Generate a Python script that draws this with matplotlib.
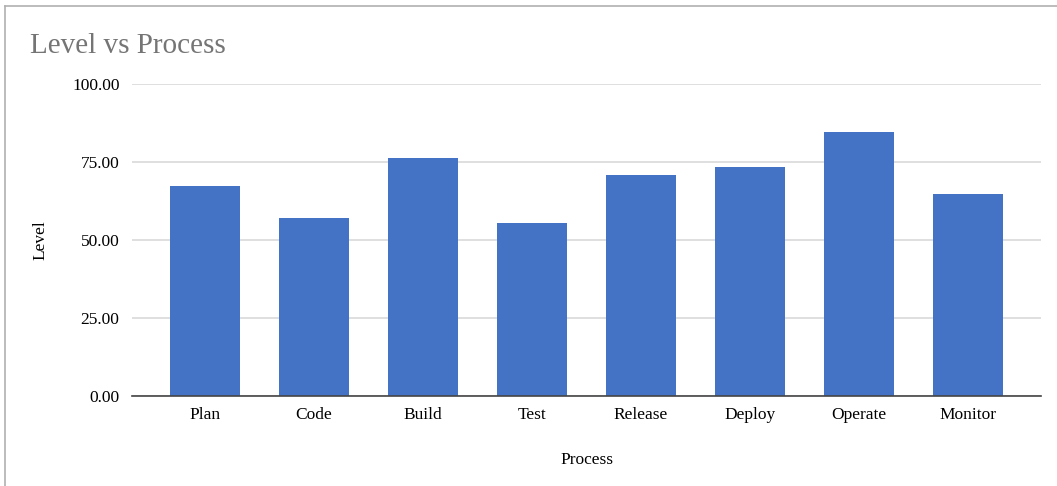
import matplotlib.pyplot as plt
from matplotlib.lines import Line2D

processes = ["Plan", "Code", "Build", "Test", "Release", "Deploy", "Operate", "Monitor"]
levels = [67.2, 56.9, 76.2, 55.4, 70.9, 73.3, 84.5, 64.8]
yticks = [0, 25, 50, 75, 100]

plt.rcParams['font.family'] = ['Liberation Serif', 'DejaVu Serif']

fig = plt.figure(figsize=(10.57, 4.86), dpi=100)
ax = fig.add_axes([0.1249, 0.1862, 0.86, 0.641])

x = range(len(processes))
ax.bar(x, levels, width=0.64, color="#4472C4", zorder=3)

ax.set_xlim(-0.67, len(processes) - 0.33)
ax.set_ylim(0, 100)
ax.set_yticks(yticks)
ax.set_yticklabels([f"{v:.2f}" for v in yticks], fontsize=12.5)
ax.set_xticks(list(x))
ax.set_xticklabels(processes, fontsize=12.5)
ax.tick_params(length=0, pad=9)
ax.tick_params(axis="x", pad=8)

ax.grid(axis="y", color="#d9d9d9", linewidth=1.2, zorder=0)
for s in ["top", "right", "left"]:
    ax.spines[s].set_visible(False)
ax.spines["bottom"].set_color("#444444")
ax.spines["bottom"].set_linewidth(1.2)
ax.spines["bottom"].set_zorder(4)

ax.set_xlabel("Process", fontsize=12.5, labelpad=21)
ax.set_ylabel("Level", fontsize=12.5, labelpad=17)

fig.text(30 / 1057, 1 - 46 / 486, "Level vs Process", fontsize=21, color="#757575",
         ha="left", va="center")

# frame lines of the sheet
fig.add_artist(Line2D([5 / 1057, 5 / 1057], [0, 1 - 6.5 / 486], color="#b0b0b0", linewidth=1.2))
fig.add_artist(Line2D([5 / 1057, 1], [1 - 6.5 / 486, 1 - 6.5 / 486], color="#b0b0b0", linewidth=1.2))

fig.savefig("out.png", dpi=100)
